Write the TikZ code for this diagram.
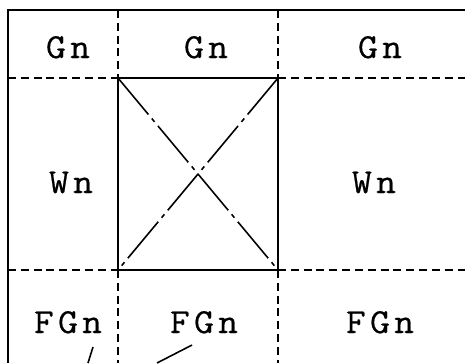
\documentclass[tikz,border=0pt]{standalone}
\usepackage{fontspec}
\newfontfamily\typefont[LetterSpace=12,FakeStretch=1.1,FakeBold=0.5]{Latin Modern Mono}
\usetikzlibrary{positioning}

\begin{document}
\begin{tikzpicture}[
  x=0.02cm, y=-0.02cm,
  font=\typefont\fontsize{20}{22}\selectfont,
  frameline/.style={line width=1.2pt},
  gridline/.style={line width=1pt, dash pattern=on 4.5pt off 2.8pt},
  diagline/.style={line width=0.9pt, dash pattern=on 27pt off 3pt on 2.5pt off 3pt},
  leader/.style={line width=0.9pt},
  cell/.style={inner sep=2pt, anchor=base}
]
\useasboundingbox (0,0) rectangle (465,363);
% corners of the middle square
\coordinate (sqtl) at (118,78);
\coordinate (sqtr) at (278,78);
\coordinate (sqbl) at (118,270);
\coordinate (sqbr) at (278,270);
% outer frame
\draw[frameline] (8,363) -- (8,10) -- (465,10);
% dashed grid
\draw[gridline] (8,78) -- (sqtl);
\draw[gridline] (sqtr) -- (465,78);
\draw[gridline] (8,270) -- (sqbl);
\draw[gridline] (sqbr) -- (465,270);
\draw[gridline] (118,10) -- (sqtl);
\draw[gridline] (278,10) -- (sqtr);
\draw[gridline] (sqbl) -- (118,363);
\draw[gridline] (sqbr) -- (278,363);
% square and its diagonals
\draw[frameline] (sqtl) rectangle (sqbr);
\draw[diagline] (sqtl) -- (sqbr);
\draw[diagline] (sqtr) -- (sqbl);
% labels
\node[cell] (g1) at (68,58) {Gn};
\node[cell] (g2) at (206,58) {Gn};
\node[cell] (g3) at (380,58) {Gn};
\node[cell] (w1) at (71,193) {Wn};
\node[cell] (w2) at (374,193) {Wn};
\node[cell] (f1) at (68,333) {FGn};
\node[cell] (f2) at (204,333) {FGn};
\node[cell] (f3) at (380,333) {FGn};
% leaders
\coordinate (lead1) at (88,363);
\coordinate (lead2) at (157,363);
\draw[leader] ([xshift=0.5cm, yshift=-0.28cm]f1.base) -- (lead1);
\draw[leader] ([xshift=-0.24cm, yshift=-0.24cm]f2.base) -- (lead2);
\end{tikzpicture}
\end{document}
